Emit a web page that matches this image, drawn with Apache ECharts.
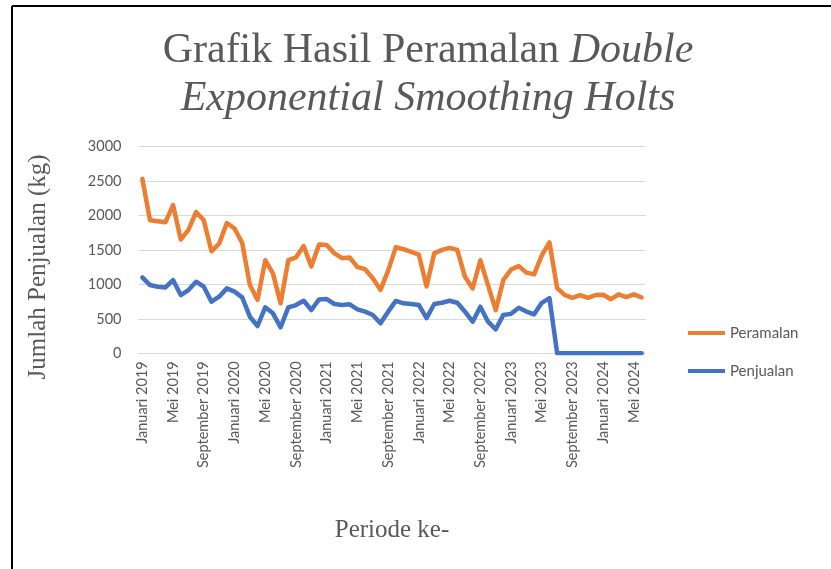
<!DOCTYPE html>
<html>
<head>
<meta charset="utf-8">
<script src="https://cdn.jsdelivr.net/npm/echarts@6/dist/echarts.min.js"></script>
<style>
  html, body { margin: 0; padding: 0; background: #fff; }
  #chart { width: 831px; height: 569px; }
</style>
</head>
<body>
<div id="chart"></div>
<script>
// bulan & tahun untuk sumbu kategori
const bulan = ['Januari', 'Februari', 'Maret', 'April', 'Mei', 'Juni', 'Juli',
    'Agustus', 'September', 'Oktober', 'November', 'Desember'];
const tahun = [2019, 2020, 2021, 2022, 2023, 2024];
const jumlahBulan = 66; // Januari 2019 - Juni 2024

const periode = [];
for (let i = 0; i < jumlahBulan; i++) {
    periode.push(bulan[i % 12] + ' ' + tahun[Math.floor(i / 12)]);
}

// hasil peramalan (kg)
const peramalan = [
    2530, 1930, 1915, 1900, 2150, 1650, 1790, 2050, 1930, 1480, 1590, 1890,
    1810, 1600, 990, 775, 1350, 1160, 725, 1350, 1390, 1555, 1260, 1580,
    1570, 1450, 1380, 1390, 1250, 1220, 1090, 920, 1200, 1540, 1510, 1470,
    1430, 970, 1450, 1500, 1530, 1500, 1110, 940, 1350, 990, 627, 1065,
    1215, 1265, 1170, 1145, 1420, 1610, 945, 845, 805, 845, 805, 845,
    850, 785, 855, 815, 855, 810
];

// data penjualan aktual (kg)
const penjualan = [
    1100, 990, 966, 956, 1063, 845, 918, 1038, 966, 749, 821, 942,
    894, 811, 531, 396, 667, 580, 377, 667, 700, 763, 628, 782,
    787, 715, 700, 710, 638, 604, 555, 435, 604, 760, 725, 715,
    700, 510, 715, 734, 763, 734, 604, 459, 676, 459, 348, 557,
    572, 662, 606, 565, 732, 800, 0, 0, 0, 0, 0, 0,
    0, 0, 0, 0, 0, 0
];

const yTicks = [0, 500, 1000, 1500, 2000, 2500, 3000];

const serif = '"Liberation Serif", "Times New Roman", serif';
const sans = 'Lato, "Open Sans", sans-serif';
const abu = '#595959';

const chart = echarts.init(document.getElementById('chart'));

chart.setOption({
    animation: false,
    backgroundColor: '#fff',
    title: {
        text: '{n|Grafik Hasil Peramalan }{i|Double}\n{i|Exponential Smoothing Holts}',
        left: 428,
        top: 27,
        padding: 0,
        textAlign: 'center',
        textStyle: {
            fontWeight: 'normal',
            rich: {
                n: { fontFamily: serif, fontSize: 42, color: abu, lineHeight: 48, fontWeight: 'normal' },
                i: { fontFamily: serif, fontSize: 42, color: abu, lineHeight: 48, fontWeight: 'normal', fontStyle: 'italic' }
            }
        }
    },
    legend: {
        orient: 'vertical',
        left: 683,
        top: 319,
        itemWidth: 37,
        itemHeight: 4,
        itemGap: 20,
        data: [
            { name: 'Peramalan', icon: 'rect' },
            { name: 'Penjualan', icon: 'rect' }
        ],
        textStyle: { fontFamily: sans, fontSize: 15, color: abu, lineHeight: 18 }
    },
    grid: { left: 138.5, right: 185.5, top: 146.5, bottom: 215.7 },
    xAxis: {
        type: 'category',
        data: periode,
        boundaryGap: true,
        name: 'Periode ke-',
        nameLocation: 'middle',
        nameGap: 165,
        nameTextStyle: { fontFamily: serif, fontSize: 25, color: abu, verticalAlign: 'top' },
        axisLine: { lineStyle: { color: '#d9d9d9', width: 1 } },
        axisTick: { show: false },
        axisLabel: {
            interval: 3,
            rotate: 90,
            margin: 8,
            fontFamily: sans,
            fontSize: 14.5,
            color: abu
        }
    },
    yAxis: {
        type: 'value',
        min: yTicks[0],
        max: yTicks[yTicks.length - 1],
        interval: 500,
        name: 'Jumlah Penjualan (kg)',
        nameLocation: 'middle',
        nameGap: 88,
        nameTextStyle: { fontFamily: serif, fontSize: 25, color: abu, padding: [0, 34, 0, 0] },
        axisLine: { show: false },
        axisTick: { show: false },
        splitLine: { lineStyle: { color: '#d9d9d9', width: 1 } },
        axisLabel: {
            margin: 17,
            fontFamily: sans,
            fontSize: 14.5,
            color: abu,
            formatter: (v) => String(v)
        }
    },
    series: [
        {
            name: 'Peramalan',
            type: 'line',
            data: peramalan,
            showSymbol: false,
            color: '#ed7d31',
            lineStyle: { width: 4.5, color: '#ed7d31', cap: 'round', join: 'round' }
        },
        {
            name: 'Penjualan',
            type: 'line',
            data: penjualan,
            showSymbol: false,
            color: '#4472c4',
            lineStyle: { width: 4.5, color: '#4472c4', cap: 'round', join: 'round' }
        }
    ],
    graphic: [
        // bingkai gambar di dokumen
        { type: 'line', shape: { x1: 12, y1: 6, x2: 831, y2: 6 }, style: { stroke: '#000', lineWidth: 2 } },
        { type: 'line', shape: { x1: 12, y1: 6, x2: 12, y2: 569 }, style: { stroke: '#000', lineWidth: 2 } }
    ]
});
</script>
</body>
</html>
